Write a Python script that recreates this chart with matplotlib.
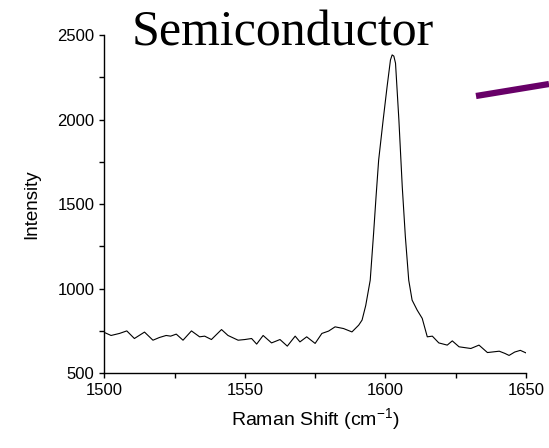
import matplotlib
matplotlib.use("Agg")
import matplotlib.pyplot as plt
from matplotlib.lines import Line2D
from matplotlib.ticker import MultipleLocator

# Raman spectrum
shift = [1500.4, 1502.4, 1505.4, 1508.0, 1510.7, 1514.3, 1517.3, 1519.6, 1522.0, 1523.6,
         1525.6, 1528.0, 1531.0, 1533.9, 1535.7, 1538.1, 1541.7, 1544.0, 1547.6, 1550.0,
         1552.4, 1554.2, 1556.5, 1559.5, 1562.5, 1565.1, 1567.9, 1569.6, 1572.0, 1575.0,
         1577.4, 1579.8, 1582.1, 1585.1, 1588.1, 1590.5, 1591.7, 1593.0, 1594.6, 1595.8,
         1596.7, 1597.6, 1599.2, 1600.6, 1601.8, 1602.4, 1603.0, 1603.6, 1604.8, 1606.0,
         1607.1, 1608.3, 1609.5, 1611.3, 1613.1, 1614.9, 1616.7, 1619.0, 1622.0, 1623.8,
         1626.2, 1630.4, 1633.3, 1636.3, 1640.5, 1642.5, 1644.0, 1646.0, 1648.0, 1650.0]
intensity = [738, 723, 735, 750, 705, 743, 695, 711, 723, 719,
             731, 695, 750, 715, 719, 699, 758, 723, 695, 699,
             705, 672, 723, 679, 699, 660, 719, 685, 715, 676,
             735, 749, 774, 764, 744, 784, 814, 900, 1050, 1327,
             1550, 1760, 1997, 2194, 2352, 2382, 2375, 2333, 1997, 1602,
             1307, 1050, 932, 873, 824, 715, 719, 679, 666, 691,
             656, 646, 666, 622, 630, 617, 605, 625, 635, 620]

plt.rcParams["mathtext.fontset"] = "custom"
plt.rcParams["mathtext.rm"] = "Liberation Sans"
plt.rcParams["mathtext.it"] = "Liberation Sans"

fig = plt.figure(figsize=(5.49, 4.48), dpi=100)
ax = fig.add_axes([0.19, 0.167, 0.768, 0.755])

ax.plot(shift, intensity, color="black", linewidth=0.8)

ax.set_xlim(1500, 1650)
ax.set_ylim(500, 2500)
ax.xaxis.set_major_locator(MultipleLocator(50))
ax.xaxis.set_minor_locator(MultipleLocator(25))
ax.yaxis.set_major_locator(MultipleLocator(500))
ax.yaxis.set_minor_locator(MultipleLocator(250))

ax.spines["top"].set_visible(False)
ax.spines["right"].set_visible(False)
for s in ["left", "bottom"]:
    ax.spines[s].set_linewidth(1.0)

ax.tick_params(which="major", direction="out", length=3.6, width=1.0,
               labelsize=12, pad=3.6)
ax.tick_params(which="minor", direction="out", length=3.6, width=1.0)
for lab in ax.get_xticklabels() + ax.get_yticklabels():
    lab.set_fontfamily("Liberation Sans")

ax.set_xlabel("Raman Shift (cm$^{-1}$)", fontsize=14, family="Liberation Sans", labelpad=6)
ax.set_ylabel("Intensity", fontsize=13.5, family="Liberation Sans", labelpad=12)

# title sits over the top of the axes
fig.text(0.515, 0.925, "Semiconductor", fontsize=36, family="Liberation Serif",
         ha="center", va="center")

# purple bar running off the right edge
fig.add_artist(Line2D([476 / 549, 1.0], [1 - 96 / 448, 1 - 84 / 448],
                      color="#680068", linewidth=4.5, solid_capstyle="butt"))

fig.savefig("out.png", dpi=100)
